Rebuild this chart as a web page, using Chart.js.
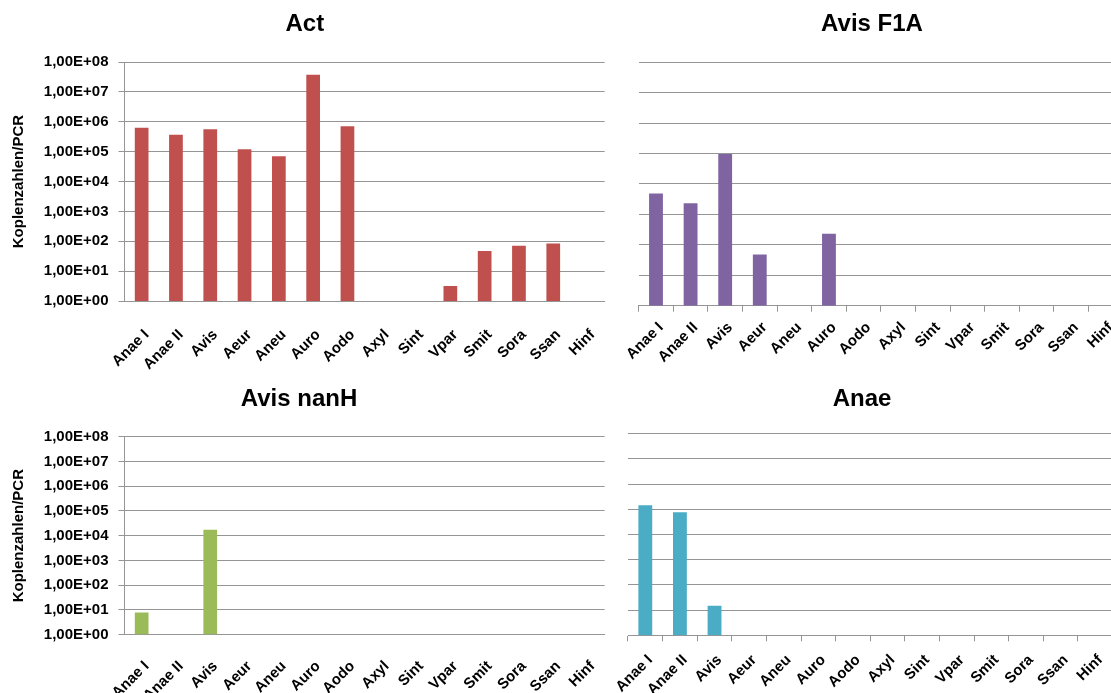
<!DOCTYPE html>
<html>
<head>
<meta charset="utf-8">
<script src="https://cdn.jsdelivr.net/npm/chart.js@4/dist/chart.umd.min.js"></script>
<style>
  html, body { margin: 0; padding: 0; background: #fff; width: 1111px; height: 693px; overflow: hidden; position: relative; }
  canvas { position: absolute; }
</style>
</head>
<body>
<canvas id="chartAct"></canvas>
<canvas id="chartF1A"></canvas>
<canvas id="chartNanH"></canvas>
<canvas id="chartAnae"></canvas>
<script>
// Strains on the category axis (same order in all four panels)
const categories = ['Anae I', 'Anae II', 'Avis', 'Aeur', 'Aneu', 'Auro', 'Aodo',
                    'Axyl', 'Sint', 'Vpar', 'Smit', 'Sora', 'Ssan', 'Hinf'];

// Copy numbers per PCR; null = no signal
const actValues      = [6.3e5, 3.7e5, 5.6e5, 1.2e5, 7.0e4, 3.8e7, 7.1e5, null, null, 3.2, 47, 71, 85, null];
const avisF1aValues  = [4.8e3, 2.3e3, 9.6e4, 48, null, 232, null, null, null, null, null, null, null, null];
const avisNanhValues = [7.8, null, 1.72e4, null, null, null, null, null, null, null, null, null, null, null];
const anaeValues     = [1.46e5, 7.7e4, 14.8, null, null, null, null, null, null, null, null, null, null, null];

// Logarithmic y axis: decades and their labels
const yTickValues = [1, 10, 100, 1e3, 1e4, 1e5, 1e6, 1e7, 1e8];
const yTickLabels = ['1,00E+00', '1,00E+01', '1,00E+02', '1,00E+03', '1,00E+04',
                     '1,00E+05', '1,00E+06', '1,00E+07', '1,00E+08'];
const yAxisTitle = 'Koplenzahlen/PCR';

const FONT = '"Liberation Sans", Arial, sans-serif';
const GRID = '#959595';

function panel(id, box, title, values, color, o) {
  const cv = document.getElementById(id);
  cv.width = box.w; cv.height = box.h;
  cv.style.left = box.x + 'px'; cv.style.top = box.y + 'px';
  cv.style.width = box.w + 'px'; cv.style.height = box.h + 'px';
  return new Chart(cv, {
    type: 'bar',
    data: {
      labels: categories,
      datasets: [{ data: values, backgroundColor: color, borderWidth: 0,
                   barPercentage: 0.4, categoryPercentage: 1 }]
    },
    options: {
      responsive: false,
      animation: false,
      devicePixelRatio: 1,
      layout: { padding: o.pad },
      plugins: {
        legend: { display: false },
        tooltip: { enabled: false },
        title: {
          display: true, text: title, color: '#000',
          font: { family: FONT, size: 24, weight: 'bold', lineHeight: 1.2 },
          padding: { top: 0, bottom: o.titleGap }
        }
      },
      scales: {
        x: {
          grid: { display: o.xTicks, drawOnChartArea: false, drawTicks: true, tickLength: 6, color: GRID },
          border: { display: true, color: GRID, width: 1 },
          ticks: {
            autoSkip: false, minRotation: 45, maxRotation: 45, padding: o.xPad, labelOffset: 5,
            color: '#000', font: { family: FONT, size: 15, weight: 'bold' }
          },
          // fixed axis band; label overhang must not shrink the plot
          afterFit: s => { s.height = o.xH; s.paddingLeft = 0; s.paddingRight = 0; }
        },
        y: {
          type: 'logarithmic', min: 1, max: 1e8,
          afterBuildTicks: s => { s.ticks = yTickValues.map(v => ({ value: v })); },
          grid: { color: GRID, drawTicks: o.yLabels, tickLength: 6 },
          border: { display: o.yLabels, color: GRID, width: 1 },
          ticks: {
            display: o.yLabels, padding: 10, color: '#000',
            font: { family: FONT, size: 15, weight: 'bold' },
            callback: (v, i) => yTickLabels[i]
          },
          title: {
            display: o.yLabels, text: yAxisTitle, color: '#000',
            font: { family: FONT, size: 15, weight: 'bold', lineHeight: 1.2 },
            padding: { top: o.yTitlePad || 0, bottom: 0 }
          },
          afterFit: s => { s.width = o.yW; s.paddingTop = 0; s.paddingBottom = 0; }
        }
      }
    }
  });
}

panel('chartAct', { x: 0, y: 0, w: 610, h: 390 }, 'Act', actValues, '#C0504D',
  { pad: { left: 5, right: 5.3, top: 10, bottom: 0 }, titleGap: 23.3, yW: 119.5, xH: 89,
    yLabels: true, yTitlePad: 5.3, xTicks: false, xPad: 19 });

panel('chartF1A', { x: 615, y: 0, w: 508, h: 390 }, 'Avis F1A', avisF1aValues, '#8064A2',
  { pad: { left: 6, right: 0, top: 10, bottom: 0 }, titleGap: 23.3, yW: 17.7, xH: 84.3,
    yLabels: false, xTicks: true, xPad: 7 });

panel('chartNanH', { x: -8, y: 370, w: 618, h: 323 }, 'Avis nanH', avisNanhValues, '#9BBB59',
  { pad: { left: 1.3, right: 5.3, top: 15, bottom: 0 }, titleGap: 23, yW: 131.2, xH: 58.5,
    yLabels: true, yTitlePad: 17, xTicks: false, xPad: 17 });

panel('chartAnae', { x: 600, y: 370, w: 513, h: 323 }, 'Anae', anaeValues, '#4BACC6',
  { pad: { left: 11.4, right: 0.4, top: 15, bottom: 0 }, titleGap: 20, yW: 16.6, xH: 57.7,
    yLabels: false, xTicks: true, xPad: 10 });
</script>
</body>
</html>
